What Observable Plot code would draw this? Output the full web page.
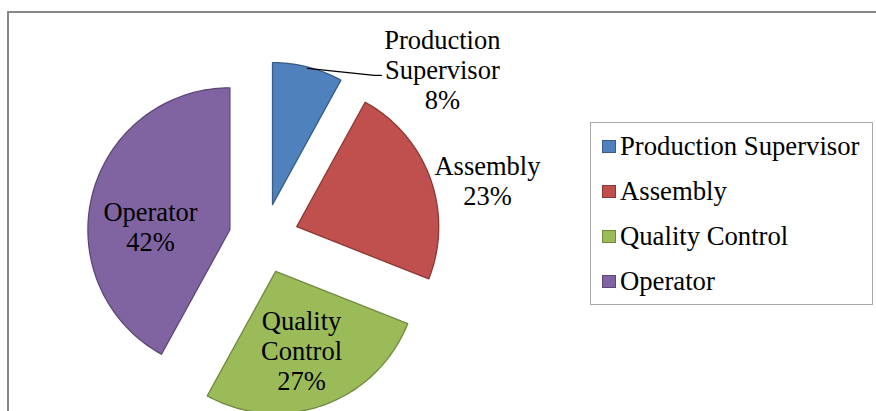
<!DOCTYPE html>
<html><head><meta charset="utf-8">
<script src="https://cdn.jsdelivr.net/npm/d3@7"></script>
<script src="https://cdn.jsdelivr.net/npm/@observablehq/plot@0.6"></script>
<style>
html,body{margin:0;padding:0;background:#fff;overflow:hidden;}
#wrap{position:relative;width:876px;height:411px;overflow:hidden;font-family:'Liberation Serif','Times New Roman',serif;}
#wrap svg{position:absolute;left:0;top:0;}
#frame{position:absolute;left:7px;top:11px;width:1000px;height:1000px;border-left:2px solid #888888;border-top:2px solid #888888;}
#legend{position:absolute;left:590px;top:122px;width:283px;height:183px;border:1.5px solid #a9a9a9;background:#fff;box-sizing:border-box;}
.row{position:absolute;left:11px;height:30px;display:flex;align-items:center;font-size:26.7px;white-space:nowrap;color:#000;font-family:'Liberation Serif',serif;}
.sw{width:14px;height:13px;margin-right:4px;box-sizing:border-box;border:1px solid;}
</style></head>
<body><div id="wrap"></div>
<script>
// ---- data ----
const categories = ["Production Supervisor", "Assembly", "Quality Control", "Operator"];
const values = [8, 23, 27, 42];
const fills = ["#4F81BD", "#C0504D", "#9BBB59", "#8064A2"];
const strokes = ["#385D8A", "#8C3836", "#71893F", "#5C4776"];

// ---- layout ----
const W = 876, H = 411;
const CX = 263.3, CY = 238, R = 142, EXPLODE = 35;
// label placement: [radius factor, angle in degrees clockwise from top]
const labelPolar = [[1.722, 46.9], [1.624, 75.9], [0.846, 161.7], [0.801, 275]];
const leaderEndPx = [-64, 4]; // leader end relative to label centre, px

const total = d3.sum(values);
const arcs = d3.pie().sort(null).value(d => d)(values);
const e = EXPLODE / R;

function pt(r, a, ox = 0, oy = 0) { return {x: ox + r * Math.sin(a), y: oy + r * Math.cos(a)}; }

const sliceMarks = arcs.map((a, i) => {
  const mid = (a.startAngle + a.endAngle) / 2;
  const o = pt(e, mid);
  const pts = [{x: o.x, y: o.y}];
  const n = 90;
  for (let k = 0; k <= n; k++) {
    const ang = a.startAngle + (a.endAngle - a.startAngle) * k / n;
    pts.push(pt(1, ang, o.x, o.y));
  }
  return Plot.line(pts, {x: "x", y: "y", curve: "linear-closed", fill: fills[i], stroke: strokes[i], strokeWidth: 1.3});
});

const labels = categories.map((c, i) => {
  const pct = Math.round(values[i] / total * 100);
  const p = pt(labelPolar[i][0], labelPolar[i][1] * Math.PI / 180);
  return {x: p.x, y: p.y, text: c.split(" ").join("\n") + "\n" + pct + "%"};
});

// leader line for the first (small) slice
const a0 = arcs[0], mid0 = (a0.startAngle + a0.endAngle) / 2;
const ls = pt(1 + e - 0.01, mid0);
const lEnd = {x: labels[0].x + leaderEndPx[0] / R, y: labels[0].y - leaderEndPx[1] / R};
const leader = [ls, {x: lEnd.x - 4 / R, y: lEnd.y}, {x: lEnd.x + 3 / R, y: lEnd.y}];

const chart = Plot.plot({
  width: W, height: H, margin: 0,
  style: {fontFamily: "'Liberation Serif', serif"},
  x: {domain: [-CX / R, (W - CX) / R], axis: null},
  y: {domain: [-(H - CY) / R, CY / R], axis: null},
  marks: [
    ...sliceMarks,
    Plot.line(leader, {x: "x", y: "y", stroke: "#000", strokeWidth: 1.3}),
    Plot.text(labels, {x: "x", y: "y", text: "text", fontSize: 26.5, lineHeight: 30 / 26.5, dy: -2,
      fontFamily: "Liberation Serif", fill: "#000"})
  ]
});

const wrap = document.getElementById("wrap");
wrap.appendChild(chart);
const frame = document.createElement("div"); frame.id = "frame"; wrap.appendChild(frame);
const legend = document.createElement("div"); legend.id = "legend";
categories.forEach((c, i) => {
  const row = document.createElement("div");
  row.className = "row";
  row.style.top = (8 + i * 45) + "px";
  const sw = document.createElement("span");
  sw.className = "sw"; sw.style.background = fills[i]; sw.style.borderColor = strokes[i];
  const t = document.createElement("span"); t.textContent = c;
  row.appendChild(sw); row.appendChild(t);
  legend.appendChild(row);
});
wrap.appendChild(legend);
</script>
</body></html>
